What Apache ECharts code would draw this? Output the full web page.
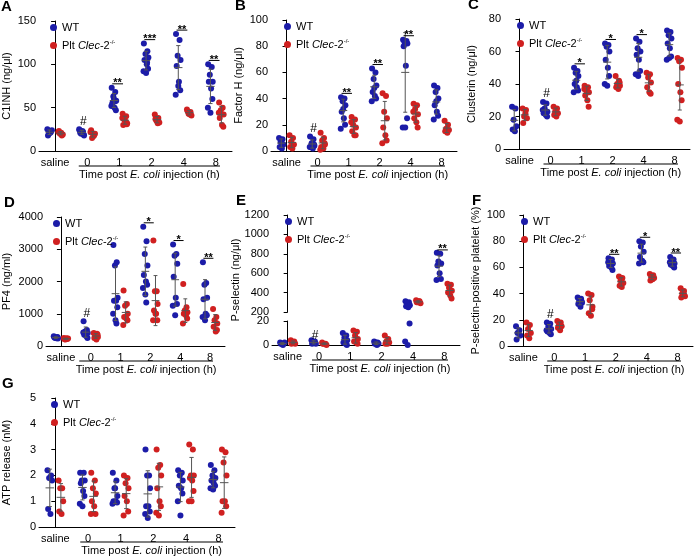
<!DOCTYPE html>
<html><head><meta charset="utf-8">
<script src="https://cdn.jsdelivr.net/npm/echarts@6/dist/echarts.min.js"></script>
<style>html,body{margin:0;padding:0;background:#fff}#c{width:700px;height:557px}</style>
</head><body><div id="c"></div>
<script>
const categories = ['saline','0','1','2','4','8'];
// Panel A: C1INH (ng/µl)
const aWT = [[25,22,20,24,18,21],[24,22,20,18,21,23,19,25,22],[73,68,63,58,55,50,47,52,60,57],[124,115,112,108,105,100,95,92,90,102],[135,128,110,105,98,80,70,65,75],[100,97,88,80,80,72,60,50,44]];
const aKO = [[22,18,20,19,23,21],[22,18,15,20,24,17],[43,40,36,32,30,34,31,38],[42,38,35,33,37,32],[48,45,43,41,46,42],[56,50,47,42,38,30,28,44]];
const aSig = ['', '#', '**', '***', '**', '**'];
// Panel B: Factor H
const bWT = [[10,9,7,5,3,2],[11,9,6,4,3,2,5,3],[41,40,38,35,30,25,20,17,32],[63,60,55,50,45,42,40,38,48],[85,84,83,82,80,65,25,18,18],[50,48,45,40,35,30,27,24,38]];
const bKO = [[12,10,7,5,3,2],[14,10,8,5,3,2,6,1],[26,24,20,18,15,12,12,22],[44,42,30,25,18,12,8,6],[36,35,32,28,25,22,18,30],[23,20,17,16,15,14]];
const bSig = ['', '#', '**', '**', '**', ''];
// Panel C: Clusterin
const cWT = [[26,25,18,14,12,11],[29,28,25,23,22,21,20,24],[50,48,47,45,40,38,36,35,42],[65,64,63,60,55,50,45,40,39],[68,66,62,60,58,55,48,46,45],[73,72,70,68,65,62,57,55,56]];
const cKO = [[25,24,20,19,16,22],[26,25,23,22,21,20],[39,38,36,35,33,30,26,37],[45,42,40,39,38,37,41],[47,46,44,41,38,35,34],[56,55,54,50,40,35,30,18,17]];
const cSig = ['', '#', '*', '*', '*', ''];
// Panel D: PF4
const dWT = [[300,280,250,230,260,240,270],[770,500,450,400,350,300,250,420],[3130,2600,2500,1500,1400,1400,1200,1000,800,700],[3700,3250,2850,2500,2200,2000,1900,1800,1600,1350],[3150,2850,2800,2550,2150,1500,1300,1250,950],[2600,1950,1900,1500,1450,1000,950,900,800]];
const dKO = [[250,220,200,230,210,240],[400,380,320,280,250,200,350],[1720,1300,1250,1000,900,850,800,650,900],[3270,1700,1700,1300,1100,1000,800,800,1000],[1920,1200,1100,1050,1000,950,850,700],[1150,900,800,700,600,450,500]];
const dSig = ['', '#', '', '*', '*', '**'];
// Panel E: P-selectin (broken axis)
const eWT = [[2,1,1,2,1,0],[4,3,2,1,1],[10,8,6,4,2,1,0],[3,2,2,1,1,0],[310,300,290,270,260,250,18,3,0],[810,800,720,700,680,600,540,530]];
const eKO = [[4,3,2,1,1,2],[2,1,1,0,1],[12,11,8,5,3,2,1],[8,5,3,2,1,1],[320,310,300,290,300,310],[490,480,450,420,400,370,340]];
const eSig = ['', '#', '', '', '', '**'];
// Panel F: P-selectin-positive platelet (%)
const fWT = [[15,12,10,8,5],[18,17,15,13,11,10,9,12],[37,36,35,33,32,30,34],[67,66,65,63,61,60,58,64],[80,79,76,72,68,65,64,63],[68,66,65,63,62,61,60,64]];
const fKO = [[18,16,13,10,8,6],[19,18,16,15,14,12],[40,39,35,30,25,23,28],[53,52,50,48,46,45],[55,54,53,52,50,51],[44,42,40,38,37,40]];
const fSig = ['', '#', '', '**', '*', '**'];
// Panel G: ATP release
const gWT = [[2.2,2.0,1.9,1.8,0.7,0.5],[2.1,2.1,1.8,1.8,1.7,1.4,1.2,0.9,0.8],[2.1,1.8,1.5,1.2,1.0,1.0,0.95,0.9,1.5],[3.0,2.0,2.0,1.5,0.8,0.8,0.6,0.5,0.35],[2.2,2.1,2.0,1.8,1.6,1.5,1.3,1.0,0.45],[2.4,2.2,2.0,1.9,1.8,1.7,1.6,1.5,1.45]];
const gKO = [[1.8,1.5,1.5,1.0,0.6,0.5],[2.1,1.8,1.5,1.3,1.0,0.8,0.5,0.5],[2.0,1.9,1.7,1.5,1.2,1.0,0.6,0.45],[3.0,2.4,2.3,2.0,1.5,1.0,0.8,0.55,0.45],[3.2,3.0,2.0,2.0,1.9,1.8,1.4,1.0,1.0],[3.0,2.9,2.5,2.0,1.0,1.0,0.8,0.55]];
const gSig = ['', '', '', '', '', ''];

const BLUE = '#1c1ca8', RED = '#d02020', GRAY = '#555';
const FONT = 'Liberation Sans, Arial, sans-serif';
const jit = [-0.07,0.04,-0.02,0.07,-0.05,0.02,0.06,-0.08,0.0,0.03];
const KONAME = 'Plt Clec-2';

const option = {animation:false, textStyle:{fontFamily:FONT}, grid:[], xAxis:[], yAxis:[], series:[], legend:[], graphic:[]};

function stats(a){const m=a.reduce((s,v)=>s+v,0)/a.length;const sd=Math.sqrt(a.reduce((s,v)=>s+(v-m)*(v-m),0)/(a.length-1));return [m,sd];}

function addGrid(g, yMin, yMax, interval, showX, yName){
  const gi = option.grid.length;
  option.grid.push({left:g.left, top:g.top, width:g.width, height:g.height});
  option.xAxis.push({type:'category', gridIndex:gi, data:categories, show:showX, boundaryGap:true,
    axisLine:{lineStyle:{color:'#000'}}, axisTick:{show:false},
    axisLabel:{color:'#000', fontSize:11, margin:6, interval:0, fontFamily:FONT}});
  option.xAxis.push({type:'value', gridIndex:gi, min:-0.5, max:5.5, show:false});
  option.yAxis.push({type:'value', gridIndex:gi, min:yMin, max:yMax, interval:interval,
    splitLine:{show:false}, axisLine:{show:true, lineStyle:{color:'#000'}}, axisTick:{show:true, length:4, lineStyle:{color:'#000'}},
    axisLabel:{color:'#000', fontSize:11, margin:3, fontFamily:FONT, formatter: v => String(v)},
    name:yName||'', nameLocation:'middle', nameRotate:90, nameGap:yMax>=1000?34:27, nameTextStyle:{color:'#000', fontSize:11, fontFamily:FONT}});
  return {xv: gi*2+1, y: gi};
}

function addSeries(ax, wt, ko, sig, yMin, yMax, range){
  const inR = v => v >= range[0] && v <= range[1];
  const pts = (arr, off) => { const out=[]; arr.forEach((g,i)=>g.forEach((v,j)=>{ if(inR(v)) out.push([i+off+jit[j%jit.length], v]); })); return out; };
  option.series.push({type:'scatter', name:'WT', xAxisIndex:ax.xv, yAxisIndex:ax.y, symbolSize:6, itemStyle:{color:BLUE, opacity:1}, data:pts(wt,-0.17), z:3});
  option.series.push({type:'scatter', name:KONAME, xAxisIndex:ax.xv, yAxisIndex:ax.y, symbolSize:6, itemStyle:{color:RED, opacity:1}, data:pts(ko,0.17), z:3});
  const eb = [];
  wt.forEach((g,i)=>{const [m,s]=stats(g); if(inR(m)) eb.push([i-0.17,m,s]);});
  ko.forEach((g,i)=>{const [m,s]=stats(g); if(inR(m)) eb.push([i+0.17,m,s]);});
  option.series.push({type:'custom', xAxisIndex:ax.xv, yAxisIndex:ax.y, z:4, clip:true, data:eb,
    renderItem:(p,api)=>{
      const x=api.value(0), m=api.value(1), s=api.value(2);
      const c=api.coord([x,m]), t=api.coord([x,Math.min(m+s,yMax)]), b=api.coord([x,Math.max(m-s,yMin)]);
      const w=api.size([0.13,0])[0];
      const st={stroke:GRAY, lineWidth:1};
      return {type:'group', children:[
        {type:'line', shape:{x1:c[0]-w,y1:c[1],x2:c[0]+w,y2:c[1]}, style:st},
        {type:'line', shape:{x1:t[0],y1:t[1],x2:b[0],y2:b[1]}, style:st},
        {type:'line', shape:{x1:t[0]-w*0.5,y1:t[1],x2:t[0]+w*0.5,y2:t[1]}, style:st},
        {type:'line', shape:{x1:b[0]-w*0.5,y1:b[1],x2:b[0]+w*0.5,y2:b[1]}, style:st}]};
    }});
  const sd = [];
  sig.forEach((s,i)=>{ if(!s) return; const mx=Math.max(...wt[i]); const y=Math.min(mx,range[1]); if(inR(mx)||mx>range[1]) sd.push([i, Math.min(y+(yMax-yMin)*0.03, yMax), s]); });
  option.series.push({type:'custom', xAxisIndex:ax.xv, yAxisIndex:ax.y, z:5, data:sd,
    renderItem:(p,api)=>{
      const c=api.coord([api.value(0),api.value(1)]); const s=sig[api.value(0)];
      const w=api.size([0.28,0])[0];
      if(s==='#') return {type:'text', style:{text:'#', x:c[0]-4, y:c[1]+2, textAlign:'center', textVerticalAlign:'bottom', font:'12px '+FONT, fill:'#000'}};
      return {type:'group', children:[
        {type:'line', shape:{x1:c[0]-w*0.8,y1:c[1],x2:c[0]+w*0.4,y2:c[1]}, style:{stroke:'#000',lineWidth:1}},
        {type:'text', style:{text:s, x:c[0]-w*0.2, y:c[1]+5, textAlign:'center', textVerticalAlign:'bottom', font:'bold 11px '+FONT, fill:'#000'}}]};
    }});
}

function decorate(letter, g, legTop){
  option.legend.push({data:['WT', KONAME], orient:'vertical', left:g.left+8, top:legTop, itemGap:6, itemWidth:7, itemHeight:7,
    icon:'circle', selectedMode:false,
    formatter: n => n==='WT' ? 'WT' : 'Plt {i|Clec}-2{s|-/-}',
    textStyle:{color:'#000', fontSize:11, fontFamily:FONT, rich:{i:{fontStyle:'italic', fontSize:11, fontFamily:FONT}, s:{fontSize:6, padding:[0,0,7,0], fontFamily:FONT}}}});
  option.graphic.push({type:'text', left:g.left-36, top:g.top-22, style:{text:letter, font:'bold 15px '+FONT, fill:'#000'}});
  const cw = g.width/6;
  const bx1 = g.left+1.5*cw-7, bx2 = g.left+g.width-12, by = g.bottom+15;
  option.graphic.push({type:'line', shape:{x1:bx1,y1:by,x2:bx2,y2:by}, style:{stroke:'#000', lineWidth:1}});
  option.graphic.push({type:'text', x:(bx1+bx2)/2, y:by+3, style:{text:'Time post {i|E. coli} injection (h)', textAlign:'center', font:'11px '+FONT, fill:'#000',
    rich:{i:{fontStyle:'italic', fontSize:11, fontFamily:FONT}}}});
}

function panel(letter, g, yMin, yMax, interval, yName, wt, ko, sig){
  g.bottom = g.top+g.height;
  const ax = addGrid(g, yMin, yMax, interval, true, yName);
  addSeries(ax, wt, ko, sig, yMin, yMax, [yMin, yMax]);
  decorate(letter, g, g.top-4);
}

panel('A', {left:37, top:21, width:195, height:130}, 0, 150, 50, 'C1INH (ng/μl)', aWT, aKO, aSig);
panel('B', {left:271, top:20, width:186, height:131}, 0, 100, 20, 'Factor H (ng/μl)', bWT, bKO, bSig);
panel('C', {left:504, top:19, width:186, height:130}, 0, 80, 20, 'Clusterin (ng/μl)', cWT, cKO, cSig);
panel('D', {left:40, top:217, width:185, height:129}, 0, 4000, 1000, 'PF4 (ng/ml)', dWT, dKO, dSig);
panel('F', {left:508, top:215, width:185, height:131}, 0, 100, 20, 'P-selectin-positive platelet (%)', fWT, fKO, fSig);
panel('G', {left:38, top:398, width:197, height:129}, 0, 5, 1, 'ATP release (nM)', gWT, gKO, gSig);

// Panel E broken axis
(function(){
  const up = {left:272, top:215, width:188, height:97};
  const lo = {left:272, top:321, width:188, height:24};
  const axU = addGrid(up, 200, 1200, 200, false, '');
  const axL = addGrid(lo, 0, 20, 20, true, '');
  addSeries(axU, eWT, eKO, eSig, 200, 1200, [200, 1200]);
  addSeries(axL, eWT, eKO, ['', '#', '', '', '', ''], 0, 20, [0, 20]);
  option.graphic.push({type:'text', x:236, y:280, rotation:Math.PI/2, style:{text:'P-selectin (ng/μl)', textAlign:'center', textVerticalAlign:'middle', font:'11px '+FONT, fill:'#000'}});
  decorate('E', {left:272, top:215, width:188, height:130, bottom:345}, 211);
})();

const chart = echarts.init(document.getElementById('c'), null, {renderer:'canvas'});
chart.setOption(option);
</script></body></html>
